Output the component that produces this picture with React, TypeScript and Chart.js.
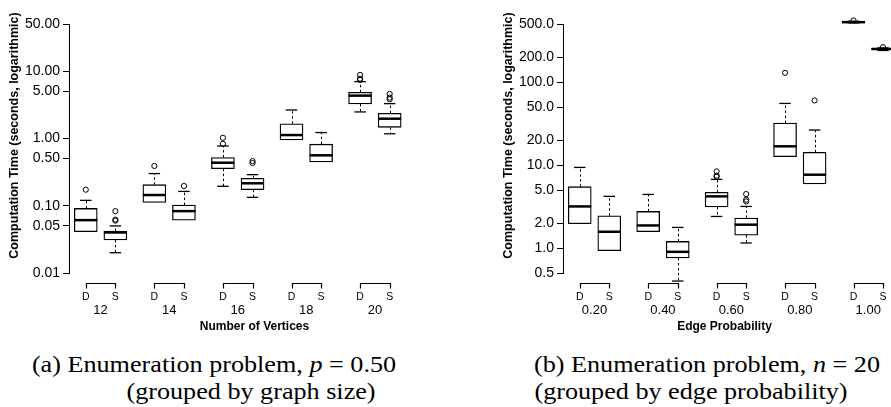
import React, { useEffect, useRef } from "react";
import { Chart, registerables } from "chart.js";

Chart.register(...registerables);

const SANS = '"Liberation Sans", Arial, Helvetica, sans-serif';
const SERIF = '"Liberation Serif", "Times New Roman", serif';

// ---------- Panel (a): grouped by graph size, p = 0.50 ----------
const sizeLabels = ["12", "14", "16", "18", "20"];
const methodLabels = ["D", "S"];
// five-number summaries: [lower whisker, Q1, median, Q3, upper whisker]
const sizeStatsD = [
  [0.041, 0.041, 0.061, 0.091, 0.12],
  [0.112, 0.112, 0.144, 0.205, 0.3],
  [0.194, 0.355, 0.435, 0.52, 0.77],
  [0.95, 0.95, 1.12, 1.65, 2.64],
  [2.47, 3.24, 4.31, 4.84, 6.96],
];
const sizeStatsS = [
  [0.02, 0.031, 0.04, 0.042, 0.05],
  [0.061, 0.061, 0.083, 0.102, 0.163],
  [0.133, 0.173, 0.215, 0.255, 0.289],
  [0.446, 0.446, 0.56, 0.82, 1.22],
  [1.17, 1.46, 1.96, 2.36, 3.28],
];
const sizeOutliersD = [[0.173], [0.389], [0.83, 1.02], [], [7.4, 7.7, 8.75]];
const sizeOutliersS = [[0.06, 0.062, 0.083], [0.196], [0.43, 0.46], [], [3.81, 4.03, 4.57]];
const sizeTicks = [0.01, 0.05, 0.1, 0.5, 1, 5, 10, 50];

// ---------- Panel (b): grouped by edge probability, n = 20 ----------
const probLabels = ["0.20", "0.40", "0.60", "0.80", "1.00"];
const probStatsD = [
  [1.96, 1.96, 3.17, 5.48, 9.35],
  [1.57, 1.57, 1.87, 2.76, 4.42],
  [2.4, 3.12, 4.19, 4.68, 6.71],
  [12.6, 12.6, 16.8, 32.0, 55.2],
  [515, 520, 526, 532, 540],
];
const probStatsS = [
  [0.93, 0.93, 1.57, 2.45, 4.19],
  [0.4, 0.76, 0.9, 1.2, 1.77],
  [1.15, 1.43, 1.91, 2.3, 3.17],
  [5.9, 5.9, 7.64, 14.2, 26.4],
  [240, 245, 250, 254, 258],
];
const probOutliersD = [[], [], [7.23, 7.43, 8.37], [129], [552]];
const probOutliersS = [[], [], [3.64, 3.82, 4.47], [60], [263]];
const probTicks = [0.5, 1, 2, 5, 10, 20, 50, 100, 200, 500];

const Y_TITLE = "Computation Time (seconds, logarithmic)";

type PanelProps = {
  width: number;
  height: number;
  groups: string[];
  statsD: number[][];
  statsS: number[][];
  outD: number[][];
  outS: number[][];
  ticks: number[];
  decimals: number;
  xTitle: string;
};

function BoxPanel(props: PanelProps) {
  const ref = useRef<HTMLCanvasElement | null>(null);
  useEffect(() => {
    const { width, groups, statsD, statsS, outD, outS, ticks, decimals, xTitle } = props;
    const GAP = 6.95;
    const OFF = 3;
    const pos = (g: number, m: number) => g * GAP + m * OFF;
    const boxes: { x: number; s: number[] }[] = [];
    const outliers: { x: number; y: number }[] = [];
    groups.forEach((_, g) => {
      boxes.push({ x: pos(g, 0), s: statsD[g] });
      boxes.push({ x: pos(g, 1), s: statsS[g] });
      outD[g].forEach((v) => outliers.push({ x: pos(g, 0), y: v }));
      outS[g].forEach((v) => outliers.push({ x: pos(g, 1), y: v }));
    });
    const tickPositions: number[] = [];
    groups.forEach((_, g) => {
      tickPositions.push(pos(g, 0));
      tickPositions.push(pos(g, 1));
    });
    const xMin = -1.7;
    const xMax = xMin + (width - 69) / 10;
    const BOXW = 23;

    const parts = {
      id: "boxParts",
      beforeDatasetsDraw(chart: any) {
        const ctx = chart.ctx;
        const xs = chart.scales.x;
        const ys = chart.scales.y;
        ctx.save();
        ctx.strokeStyle = "#000";
        boxes.forEach((b) => {
          const px = xs.getPixelForValue(b.x);
          const [lo, q1, , q3, hi] = b.s;
          const seg = (a: number, c: number) => {
            ctx.setLineDash([2.5, 2.5]);
            ctx.lineWidth = 1;
            ctx.beginPath();
            ctx.moveTo(Math.round(px) + 0.5, ys.getPixelForValue(a));
            ctx.lineTo(Math.round(px) + 0.5, ys.getPixelForValue(c));
            ctx.stroke();
            ctx.setLineDash([]);
            ctx.lineWidth = 1.3;
            ctx.beginPath();
            const yc = ys.getPixelForValue(c);
            ctx.moveTo(px - BOXW / 4, yc);
            ctx.lineTo(px + BOXW / 4, yc);
            ctx.stroke();
          };
          if (hi > q3) seg(q3, hi);
          if (lo < q1) seg(q1, lo);
        });
        ctx.restore();
      },
      afterDatasetsDraw(chart: any) {
        const ctx = chart.ctx;
        const xs = chart.scales.x;
        const ys = chart.scales.y;
        const area = chart.chartArea;
        ctx.save();
        ctx.strokeStyle = "#000";
        ctx.lineWidth = 2.5;
        boxes.forEach((b) => {
          const px = xs.getPixelForValue(b.x);
          const ym = ys.getPixelForValue(b.s[2]);
          ctx.beginPath();
          ctx.moveTo(px - BOXW / 2, ym);
          ctx.lineTo(px + BOXW / 2, ym);
          ctx.stroke();
        });
        // group brackets
        ctx.lineWidth = 1.2;
        const yb = Math.round(area.bottom + 10) + 0.5;
        groups.forEach((_, g) => {
          const a = Math.round(xs.getPixelForValue(pos(g, 0))) + 0.5;
          const c = Math.round(xs.getPixelForValue(pos(g, 1))) + 0.5;
          ctx.beginPath();
          ctx.moveTo(a, yb + 5);
          ctx.lineTo(a, yb);
          ctx.lineTo(c, yb);
          ctx.lineTo(c, yb + 5);
          ctx.stroke();
        });
        // y title
        ctx.fillStyle = "#000";
        ctx.font = `bold 12.5px ${SANS}`;
        ctx.textAlign = "center";
        ctx.textBaseline = "middle";
        ctx.translate(14.5, (area.top + area.bottom) / 2 - 13);
        ctx.rotate(-Math.PI / 2);
        ctx.fillText(Y_TITLE, 0, 0);
        ctx.restore();
      },
    };

    const chart = new Chart(ref.current as HTMLCanvasElement, {
      type: "bar",
      data: {
        datasets: [
          {
            type: "bar",
            data: boxes.map((b) => ({ x: b.x, y: [b.s[1], b.s[3]] })) as any,
            backgroundColor: "#fff",
            borderColor: "#000",
            borderWidth: 1.3,
            borderSkipped: false,
            barThickness: BOXW,
            clip: false as any,
            order: 2,
          } as any,
          {
            type: "scatter",
            data: outliers,
            pointStyle: "circle",
            pointRadius: 2.6,
            pointBorderWidth: 1,
            pointBorderColor: "#000",
            pointBackgroundColor: "rgba(0,0,0,0)",
            clip: false as any,
            order: 1,
          } as any,
        ],
      },
      options: {
        animation: false,
        responsive: false,
        events: [],
        layout: { padding: { top: 24, left: 0, right: 0, bottom: 0 } },
        plugins: { legend: { display: false }, tooltip: { enabled: false } },
        scales: {
          x: {
            type: "linear",
            position: "bottom",
            weight: 0,
            min: xMin,
            max: xMax,
            offset: false,
            grid: { display: false, drawTicks: false },
            border: { display: false },
            afterBuildTicks: (s: any) => {
              s.ticks = tickPositions.map((v) => ({ value: v }));
            },
            afterFit: (s: any) => {
              s.height = 30;
              s.paddingLeft = 0;
              s.paddingRight = 0;
            },
            ticks: {
              autoSkip: false,
              maxRotation: 0,
              padding: 18,
              color: "#000",
              font: { family: SANS, size: 10.5 },
              callback: (_v: any, i: number) => methodLabels[i % 2],
            },
          },
          x2: {
            type: "linear",
            position: "bottom",
            weight: 1,
            min: xMin,
            max: xMax,
            offset: false,
            grid: { display: false, drawTicks: false },
            border: { display: false },
            afterBuildTicks: (s: any) => {
              s.ticks = groups.map((_, g) => ({ value: pos(g, 0) + OFF / 2 }));
            },
            afterFit: (s: any) => {
              s.height = 33;
              s.paddingLeft = 0;
              s.paddingRight = 0;
            },
            ticks: {
              autoSkip: false,
              maxRotation: 0,
              padding: 0,
              color: "#000",
              font: { family: SANS, size: 13 },
              callback: (_v: any, i: number) => groups[i],
            },
            title: {
              display: true,
              text: xTitle,
              color: "#000",
              font: { family: SANS, size: 12, weight: "bold" },
              padding: { top: 0, bottom: 2 },
            },
          },
          y: {
            type: "logarithmic",
            min: ticks[0],
            max: ticks[ticks.length - 1],
            afterBuildTicks: (s: any) => {
              s.ticks = ticks.map((v) => ({ value: v }));
            },
            afterFit: (s: any) => {
              s.width = 69;
            },
            grid: {
              display: true,
              drawOnChartArea: false,
              drawTicks: true,
              tickLength: 6,
              color: "#000",
              lineWidth: 1,
            },
            border: { display: true, color: "#000", width: 1 },
            ticks: {
              autoSkip: false,
              padding: 3,
              color: "#000",
              font: { family: SANS, size: 14 },
              callback: (v: any) => Number(v).toFixed(decimals),
            },
          },
        },
      } as any,
      plugins: [parts],
    });
    return () => chart.destroy();
  }, []);
  return <canvas ref={ref} width={props.width} height={props.height} style={{ display: "block" }} />;
}

const captionStyle: React.CSSProperties = {
  position: "absolute",
  whiteSpace: "nowrap",
  font: `24px ${SERIF}`,
  lineHeight: "27px",
  color: "#000",
  transform: "translateX(-50%) scaleX(1.09)",
};

export default function App() {
  return (
    <div style={{ position: "absolute", left: 0, top: 0, width: 891, height: 407, background: "#fff", overflow: "hidden" }}>
      <div style={{ position: "absolute", left: 0, top: 0 }}>
        <BoxPanel
          width={445}
          height={336}
          groups={sizeLabels}
          statsD={sizeStatsD}
          statsS={sizeStatsS}
          outD={sizeOutliersD}
          outS={sizeOutliersS}
          ticks={sizeTicks}
          decimals={2}
          xTitle="Number of Vertices"
        />
      </div>
      <div style={{ position: "absolute", left: 494, top: 0 }}>
        <BoxPanel
          width={397}
          height={336}
          groups={probLabels}
          statsD={probStatsD}
          statsS={probStatsS}
          outD={probOutliersD}
          outS={probOutliersS}
          ticks={probTicks}
          decimals={1}
          xTitle="Edge Probability"
        />
      </div>
      <div style={{ ...captionStyle, left: 214, top: 351 }}>
        (a) Enumeration problem, <i>p</i> = 0.50
      </div>
      <div style={{ ...captionStyle, left: 251, top: 378 }}>(grouped by graph size)</div>
      <div style={{ ...captionStyle, left: 707, top: 351 }}>
        (b) Enumeration problem, <i>n</i> = 20
      </div>
      <div style={{ ...captionStyle, left: 691, top: 378 }}>(grouped by edge probability)</div>
    </div>
  );
}
